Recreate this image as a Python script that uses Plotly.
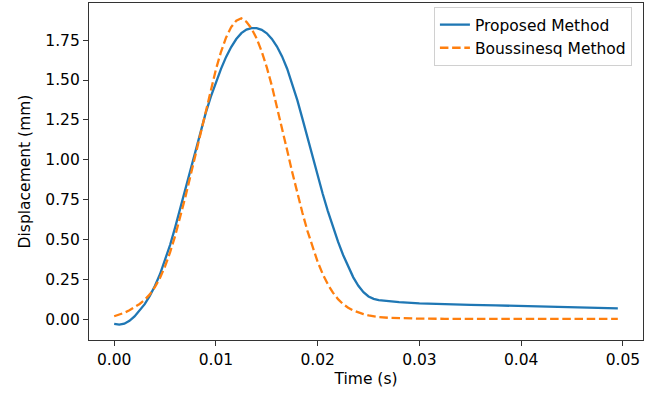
import plotly.graph_objects as go

# Sample times (s): fine spacing through the pulse, coarser along the tail
time_s = [
    0.0000, 0.0005, 0.0010, 0.0015, 0.0020, 0.0025, 0.0030, 0.0035, 0.0040, 0.0045,
    0.0050, 0.0055, 0.0060, 0.0065, 0.0070, 0.0075, 0.0080, 0.0085, 0.0090, 0.0095,
    0.0100, 0.0105, 0.0110, 0.0115, 0.0120, 0.0125, 0.0130, 0.0135, 0.0140, 0.0145,
    0.0150, 0.0155, 0.0160, 0.0165, 0.0170, 0.0175, 0.0180, 0.0185, 0.0190, 0.0195,
    0.0200, 0.0205, 0.0210, 0.0215, 0.0220, 0.0225, 0.0230, 0.0235, 0.0240, 0.0245,
    0.0250, 0.0255, 0.0260, 0.0270, 0.0280, 0.0300, 0.0325, 0.0350, 0.0375, 0.0400,
    0.0425, 0.0450, 0.0475, 0.0495,
]

# Displacement (mm) from the proposed method
proposed_mm = [
    -0.030, -0.035, -0.029, -0.011, 0.017, 0.052, 0.094, 0.146, 0.208, 0.281,
    0.367, 0.466, 0.577, 0.696, 0.819, 0.943, 1.065, 1.183, 1.294, 1.396,
    1.488, 1.570, 1.645, 1.707, 1.757, 1.794, 1.816, 1.825, 1.825, 1.815,
    1.793, 1.758, 1.710, 1.648, 1.571, 1.479, 1.374, 1.258, 1.137, 1.016,
    0.898, 0.785, 0.678, 0.578, 0.486, 0.402, 0.327, 0.262, 0.209, 0.169,
    0.142, 0.127, 0.119, 0.112, 0.107, 0.099, 0.093, 0.089, 0.086, 0.082,
    0.078, 0.074, 0.070, 0.067,
]

# Displacement (mm) from the Boussinesq solution
boussinesq_mm = [
    0.018, 0.028, 0.040, 0.055, 0.073, 0.095, 0.121, 0.155, 0.200, 0.258,
    0.331, 0.420, 0.524, 0.641, 0.767, 0.899, 1.035, 1.173, 1.310, 1.442,
    1.567, 1.677, 1.767, 1.832, 1.872, 1.887, 1.865, 1.823, 1.761, 1.679,
    1.579, 1.463, 1.335, 1.199, 1.059, 0.921, 0.789, 0.667, 0.552, 0.449,
    0.359, 0.282, 0.218, 0.166, 0.125, 0.094, 0.071, 0.054, 0.041, 0.031,
    0.023, 0.017, 0.013, 0.008, 0.005, 0.003, 0.002, 0.002, 0.001, 0.001,
    0.001, 0.001, 0.001, 0.001,
]

x_ticks = [0.00, 0.01, 0.02, 0.03, 0.04, 0.05]
y_ticks = [0.00, 0.25, 0.50, 0.75, 1.00, 1.25, 1.50, 1.75]

FONT = "DejaVu Sans"
FS = 15.5
AXIS_COLOR = "#333333"


def padded(lo, hi, frac=0.05):
    span = hi - lo
    return [lo - frac * span, hi + frac * span]


x_range = padded(min(time_s), max(time_s))
y_range = padded(min(proposed_mm + boussinesq_mm), max(proposed_mm + boussinesq_mm))

fig = go.Figure()
fig.add_trace(go.Scatter(
    x=time_s, y=proposed_mm, mode="lines", name="Proposed Method",
    legendgroup="a",
    line=dict(color="#1f77b4", width=2.3),
))
fig.add_trace(go.Scatter(
    x=time_s, y=boussinesq_mm, mode="lines", name="Boussinesq Method",
    legendgroup="b",
    line=dict(color="#ff7f0e", width=2.3, dash="8.5px,3.7px"),
))

axis_common = dict(
    showgrid=False, zeroline=False,
    showline=True, linecolor=AXIS_COLOR, linewidth=1.1, mirror=True,
    ticks="outside", ticklen=5, tickwidth=1.1, tickcolor=AXIS_COLOR,
    tickfont=dict(family=FONT, size=FS, color="#000000"),
)

fig.update_xaxes(
    **axis_common,
    range=x_range, tickvals=x_ticks, tickformat=".2f",
    title=dict(text="Time (s)", font=dict(family=FONT, size=FS, color="#000000"), standoff=5),
)
fig.update_yaxes(
    **axis_common,
    range=y_range, tickvals=y_ticks, tickformat=".2f",
    title=dict(text="Displacement (mm)", font=dict(family=FONT, size=FS, color="#000000"), standoff=10),
)

fig.update_layout(
    width=660, height=394,
    margin=dict(l=89, r=17, t=3, b=54, autoexpand=False),
    paper_bgcolor="white", plot_bgcolor="white",
    font=dict(family=FONT, size=FS, color="#000000"),
    legend=dict(
        x=0.98, y=0.988, xanchor="right", yanchor="top",
        bgcolor="rgba(255,255,255,0.8)", bordercolor="#d0d0d0", borderwidth=1,
        font=dict(family=FONT, size=FS, color="#000000"),
        tracegroupgap=0,
        entrywidth=170, entrywidthmode="pixels",
    ),
)

fig.write_html("out.html")
